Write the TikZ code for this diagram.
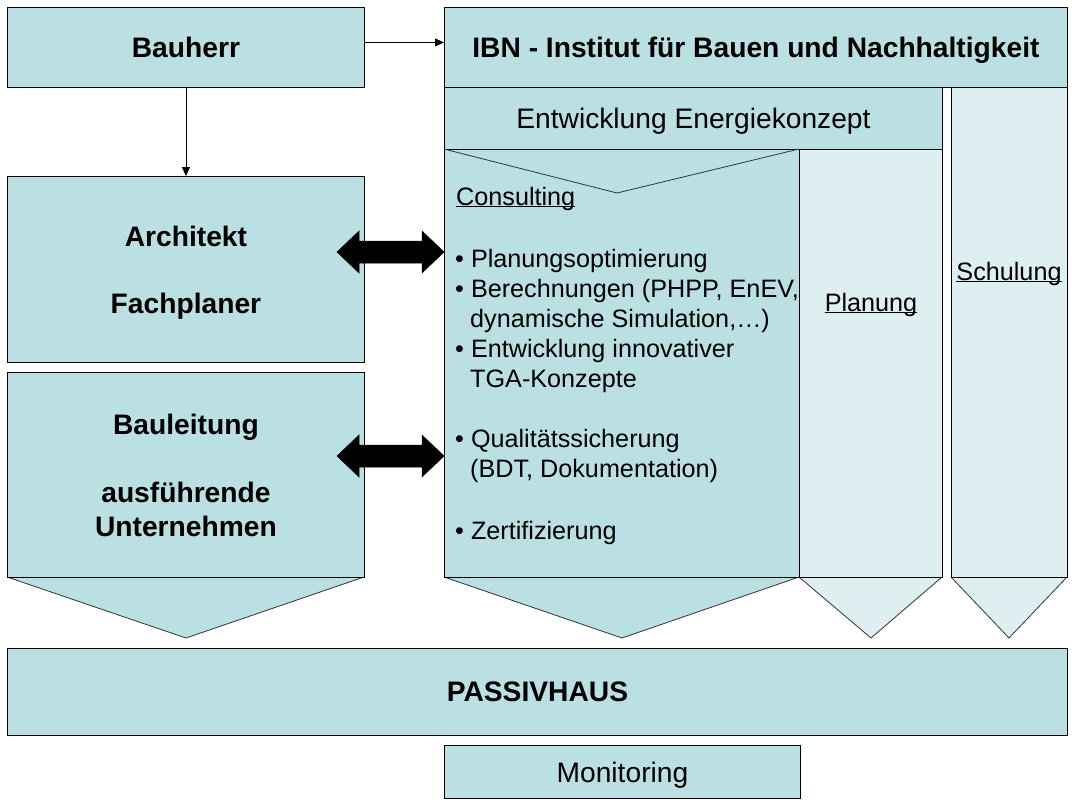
\documentclass[tikz,border=0pt]{standalone}
\usepackage{fontspec}
\setmainfont{Liberation Sans}
\usetikzlibrary{arrows.meta}
\definecolor{tealA}{HTML}{BBE0E3}
\definecolor{tealB}{HTML}{DDEFF1}
\newcommand\ulx[1]{\underline{\smash{#1}}}
\begin{document}
\begin{tikzpicture}[x=1pt,y=-1pt,
  box/.style={draw=black, line width=0.9pt, fill=tealA, inner sep=0pt, anchor=north west, align=center},
  lightbox/.style={box, fill=tealB},
  chev/.style={draw=black!80, line width=0.8pt, fill=tealA},
  lightchev/.style={chev, fill=tealB},
  titlefont/.style={font=\fontsize{28.2}{34}\selectfont\bfseries},
  bigfont/.style={font=\fontsize{28.2}{34}\selectfont},
  midfont/.style={font=\fontsize{25.2}{30}\selectfont},
  listfont/.style={midfont, inner sep=0pt, anchor=base west},
  conn/.style={line width=0.8pt, -{Triangle[length=9pt,width=8pt]}},
  blockarrow/.style={fill=black, draw=black, line width=0.5pt}
]
\path[use as bounding box] (0,0) rectangle (1077,809);

% chevrons (drawn first, boxes on top)
\draw[lightchev] (799,577) -- (871,638) -- (942,577);
\draw[lightchev] (951,577) -- (1009,638) -- (1067,577);
\draw[chev] (444,577) -- (622,638) -- (799,577);
\draw[chev] (7,577) -- (186,638) -- (364,577);

% top row
\node[box, titlefont, text depth=0pt, minimum width=357, minimum height=80] (bauherr) at (7,7) {Bauherr};
\node[box, titlefont, text depth=0pt, minimum width=623, minimum height=80] (ibn) at (444,7) {IBN - Institut für Bauen und Nachhaltigkeit};

% IBN columns
\node[lightbox, minimum width=143, minimum height=428] (planung) at (799,149) {};
\node[lightbox, minimum width=116, minimum height=490] (schulung) at (951,87) {};
\node[box, bigfont, text depth=0pt, minimum width=498, minimum height=62] (entw) at (444,87) {Entwicklung Energiekonzept};
\node[box, minimum width=355, minimum height=428] (consult) at (444,149) {};
\draw[line width=0.8pt, draw=black!80] (444,149) -- (617,193) -- (799,149);

\node[midfont, inner sep=0pt, anchor=base] (planungtxt) at (871,311) {\ulx{Planung}};
\node[midfont, inner sep=0pt, anchor=base] (schulungtxt) at (1009,280) {\ulx{Schulung}};

% consulting texts
\node[listfont] (c0) at (456,205) {\ulx{Consulting}};
\node[listfont] (c1) at (455,267) {• Planungsoptimierung};
\node[listfont] (c2) at (455,297) {• Berechnungen (PHPP, EnEV,};
\node[listfont] (c3) at (470,327) {dynamische Simulation,…)};
\node[listfont] (c4) at (455,357) {• Entwicklung innovativer};
\node[listfont] (c5) at (470,387) {TGA-Konzepte};
\node[listfont] (c6) at (455,447) {• Qualitätssicherung};
\node[listfont] (c7) at (470,477) {(BDT, Dokumentation)};
\node[listfont] (c8) at (455,539) {• Zertifizierung};

% left column
\node[box, titlefont, text depth=0pt, minimum width=357, minimum height=186] (arch) at (7,176) {Architekt\\[33pt]Fachplaner};
\node[box, titlefont, minimum width=357, minimum height=205] (baul) at (7,372) {Bauleitung\\[34pt]ausführende\\Unternehmen};

% bottom
\node[box, titlefont, minimum width=1060, minimum height=87] (passiv) at (7,648) {PASSIVHAUS};
\node[box, bigfont, text depth=0pt, minimum width=356, minimum height=53] (monitor) at (444,745) {Monitoring};

% connectors
\draw[conn] ([yshift=5pt]bauherr.east) -- ([yshift=5pt]bauherr.east -| ibn.west);
\draw[conn] (bauherr.south) -- (bauherr.south |- arch.north);

% block double arrows
\foreach \c/\n in {252/da1, 456/da2} {
  \draw[blockarrow] (337,\c) -- (359,\c-21) -- (359,\c-11) -- (422,\c-11) -- (422,\c-21)
    -- (444,\c) -- (422,\c+21) -- (422,\c+11) -- (359,\c+11) -- (359,\c+21) -- cycle;
}
\end{tikzpicture}
\end{document}
